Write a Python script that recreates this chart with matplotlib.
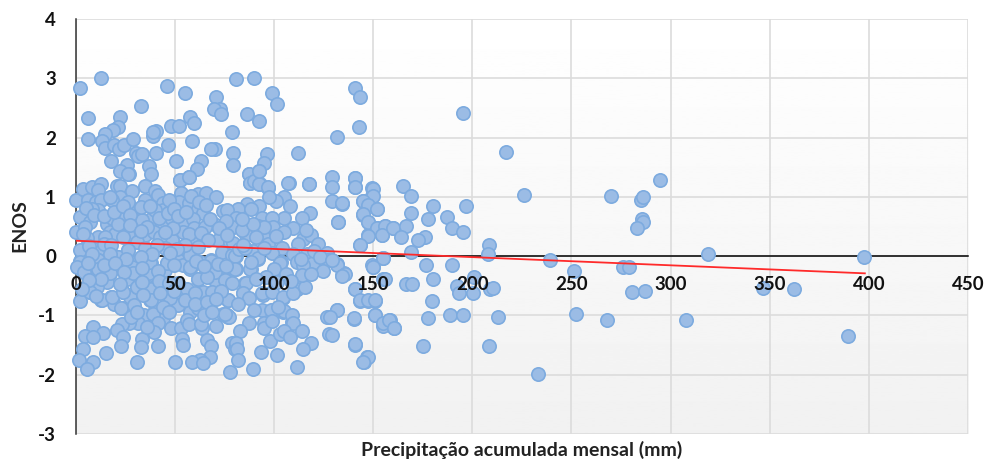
# -*- coding: utf-8 -*-
import numpy as np
import matplotlib
matplotlib.use("Agg")
import matplotlib.pyplot as plt

plt.rcParams['font.family'] = ['Lato', 'DejaVu Sans']
plt.rcParams['font.weight'] = 'bold'

# precipitacao acumulada mensal (mm), ENOS
pontos_topo = [
    (2.3,2.83),(12.9,3.01),(6.1,2.33),(22.4,2.35),(21.6,2.18),(18.7,2.12),(14.9,2.06),(6.1,1.97),
    (13.2,1.94),(14.9,1.83),(19.6,1.87),(22,1.80),(24.5,1.87),(29.2,1.97),(32.9,2.53),(30.5,1.74),
    (31.7,1.69),(33.7,1.72),(17.9,1.6),(26,1.53),(22.4,1.43),(26.8,1.39),(37.2,1.52),(37.9,1.38),
    (40.4,1.74),(39.2,2.02),(40.4,2.11),(39.2,2.1),(46.5,1.87),(46,2.87),(55.2,2.76),(48.2,2.2),
    (52.2,2.2),(57.7,2.35),(59.7,2.25),(58.9,1.95),(50.8,1.61),(63.4,1.61),(61.4,1.47),(57.2,1.33),
    (52.9,1.29),(70.8,2.69),(72.8,2.49),(70,2.49),(73.4,2.4),(80.8,2.99),(90,3.01),(98.9,2.76),
    (101.8,2.56),(86.3,2.4),(92.4,2.28),(78.7,2.1),(70.3,1.81),(68.2,1.81),(79.6,1.74),(79.6,1.53),
    (87.3,1.39),(96.4,1.73),(95,1.57),(92.5,1.43),(112.4,1.74),(88.2,1.24),(90.5,1.26),(93,1.21),
    (96.9,1.15),(107.5,1.24),(117.9,1.22),
]
pontos_faixa_alta = [
    (0.3,0.95),(3.9,1.14),(8.5,1.16),(12.9,1.21),(11.5,1.12),(6.5,0.94),(10.3,0.92),(13,0.94),
    (21,1.18),(22.4,1.18),(26.6,1.39),(22.4,0.99),(18.2,0.94),(28.7,1.1),(35,1.19),(35,0.94),
    (40,1.1),(41.8,1.03),(44.3,0.89),(43.9,0.78),(52.7,1.29),(57.2,1.33),(53.4,1.07),(52.2,0.92),
    (57,0.89),(61.9,1.04),(66,1.07),(70.7,0.99),(61.9,0.8),(64.5,0.73),(69.8,0.55),(74.5,0.76),
    (78.3,0.48),(72,0.27),(78,0.24),(2.3,0.66),(7.3,0.58),(0.25,0.41),(11.2,0.78),(11.5,0.33),
    (15.7,0.55),(18.2,0.65),(17.4,0.41),(22.4,0.41),(24.6,0.65),(30.8,0.75),(30.8,0.63),(30.8,0.47),
    (26.6,0.35),(35,0.35),(37.9,0.62),(43.4,0.51),(39.5,0.41),(48.5,0.63),(54.4,0.57),(59.4,0.63),
    (59.9,0.47),(48.8,0.28),(54.4,0.41),(59.4,0.3),(42.6,0.33),(30.8,0.24),(20,0.38),(6,0.3),
    (3.1,0.1),(13.2,0.11),(26.6,0.11),(35,0.13),(45,0.13),(57.7,0.03),(21.6,-0.01),(2.3,-0.08),
    (11.5,-0.07),(30.8,-0.08),(37.9,-0.11),(51,-0.04),(68.1,-0.07),(73.7,0.07),(4.8,-0.24),(10.7,-0.22),
    (21.6,-0.18),(28.3,-0.18),(46,-0.12),(54.4,-0.15),(62.8,-0.1),(78.7,0.02),(15,0.33),(24,0.33),
    (33.4,0.61),(40,0.78),(26.6,0.92),(17.4,1),(8.5,0.8),(4.8,0.49),(65.3,0.49),(57,0.38),
    (49.3,0.47),(36,0.49),(45.1,0.41),
]
pontos_faixa_baixa = [
    (4,-0.26),(11,-0.22),(17.4,-0.29),(16,-0.44),(7.3,-0.6),(2.3,-0.76),(10.7,-0.52),(12.9,-0.74),
    (17.9,-0.69),(19.6,-0.8),(23.3,-0.88),(24.1,-0.6),(27.5,-0.69),(29.2,-0.31),(30.8,-0.52),(25.8,-0.39),
    (37.2,-0.31),(38,-0.56),(37.6,-0.74),(40,-0.91),(34.7,-0.99),(44.3,-1.04),(39.3,-0.98),(41.6,-1.12),
    (31.7,-1.13),(27.2,-1.12),(23.3,-1.14),(20.8,-1.25),(24.1,-1.36),(22.8,-1.51),(33.4,-1.4),(33,-1.53),
    (41.4,-1.51),(39.7,-1.28),(9,-1.19),(4.8,-1.34),(13.7,-1.29),(9,-1.36),(4,-1.56),(15.4,-1.64),
    (1.8,-1.75),(9,-1.78),(6,-1.9),(31.2,-1.79),(50.2,-1.78),(48.2,-1.22),(53.4,-1.22),(53.5,-1.4),
    (54.4,-1.5),(47.6,-0.7),(55.2,-0.74),(51.8,-0.83),(57.7,-0.94),(62,-0.87),(56.4,-1.08),(57,-1.15),
    (63.6,-1.22),(63.3,-1.15),(70.6,-1.18),(66.1,-1.42),(68.3,-1.51),(67.8,-1.7),(62.8,-1.75),(58.6,-1.79),
    (64.5,-1.81),(78.7,-1.47),(80.4,-1.56),(74.5,-0.98),(77,-1.02),(76.7,-0.74),(62,-0.38),(68.7,-0.6),
    (70.3,-0.4),(75.4,-0.39),(56,-0.55),(45,-0.24),(51.9,-0.46),(64.5,-0.6),(57.7,-0.21),
    (2.3,0.1),(2.3,-0.1),(0.6,-0.18),(4.3,-0.26),(11.2,-0.07),(11.2,-0.22),(17.4,-0.29),(7.3,-0.6),
    (13.2,-0.74),(18.2,-0.69),(23,-0.88),(21.6,-0.01),(26.6,0.1),(29.2,-0.29),(37.2,-0.29),(37.6,-0.1),
    (30.8,-0.52),(24.1,-0.6),(37.9,-0.74),(46,-0.12),(57.7,0.02),(57.7,-0.18),(62,-0.38),(68.2,-0.08),
    (70.4,-0.26),(75.4,-0.4),(69,-0.6),(80.7,0),(80.7,-0.22),(88.3,-0.22),(91.9,-0.04),(85.5,-0.45),
    (84.6,-0.63),(77,-0.74),(55.2,-0.74),(47.6,-0.71),(103,-0.12),(111.5,-0.56),(104.8,-0.71),(104.8,-0.94),
    (109,-1.11),(94.7,-0.66),
]
pontos_centro = [
    (87.5,1.39),(88,1.24),(90.2,1.27),(92.7,1.21),(96.9,1.17),(92.5,1.43),(107.3,1.24),(117.9,1.21),
    (129.1,1.33),(129.1,1.17),(140.9,1.31),(140.9,1.17),(149.7,1.15),(149.7,1.01),(145.1,0.93),(129.5,0.93),
    (134.2,0.88),(151.9,0.8),(105.1,1),(101.1,0.93),(97.7,0.99),(108.2,0.84),(118.2,0.72),(114.4,0.65),
    (105,0.65),(92.7,0.85),(86.3,0.88),(82.1,0.8),(76.2,0.78),(88.5,0.79),(93.9,0.65),(99,0.65),
    (81,0.65),(78.8,0.49),(92.2,0.51),(99.4,0.49),(109.8,0.48),(105,0.4),(85.8,0.35),(94.4,0.34),
    (79.6,0.23),(83.8,0.44),(114.5,0.29),(118.6,0.35),(112,0.21),(122.4,0.2),(132.5,0.57),(145.1,0.7),
    (147.3,0.57),(147.7,0.35),(154.4,0.35),(151.9,0.48),(156,0.51),(160.3,0.48),(143.4,0.19),(96.9,0.21),
    (89.7,0.08),(104,0.13),(98.9,0.06),(109.8,0.03),(116.9,0.03),(127,0.06),(155.2,-0.03),(80.4,0.01),
    (91.9,-0.03),(103.4,-0.1),(111.5,-0.1),(119.9,-0.12),(131.7,-0.14),(149.7,-0.15),(127.5,-0.07),
    (80.4,-0.22),(88,-0.22),(103,-0.12),(114.9,-0.15),(125,-0.25),(134.2,-0.32),(135.4,-0.29),(149.8,-0.18),
    (155,-0.38),(85.8,-0.45),(93.9,-0.63),(84.6,-0.63),(87.5,-0.7),(98.9,-0.6),(104.8,-0.69),(111.5,-0.56),
    (109.8,-0.63),(115.7,-0.52),(114,-0.32),(140.9,-0.55),(143.4,-0.75),(147.6,-0.75),(150.9,-0.75),(131.7,-0.91),
    (126.7,-1.03),(140.4,-1.06),(151,-1),(155.2,-1.17),(158.5,-1.07),(160.8,-1.22),(77,-0.74),(76.2,-1),
    (77.4,-1.03),(75.4,-0.97),(94.2,-0.91),(98.6,-0.9),(105.3,-0.93),(109,-1),(109.5,-1.12),(95,-1.13),
    (95.2,-1.22),(99,-1.1),(87.5,-1.13),(82.9,-1.26),(80.8,-1.46),(81.3,-1.56),(81.8,-1.76),(77.7,-1.95),
    (89.3,-1.91),(93.6,-1.61),(98,-1.43),(103.1,-1.31),(105,-1.26),(108.2,-1.37),(114.4,-1.26),(118.8,-1.47),
    (114.9,-1.56),(101.8,-1.66),(111.7,-1.87),(128,-1.32),(140.9,-1.5),(147.2,-1.7),(145.3,-1.78),
]
# pontos encobertos na nuvem densa, estimados
pontos_densos = [
    (5.2,0.82),(9.4,0.7),(14.2,0.68),(3.6,0.37),(7,0.17),(14.2,0.2),(17.8,0.18),(21.3,0.55),(19.6,0.75),
    (23.7,0.85),(27.7,0.7),(27.4,0.52),(33,0.42),(33.2,0.83),(37.6,0.85),(42.3,0.65),(46.8,0.72),(47,0.95),
    (49.7,0.8),(51.6,0.67),(55.8,0.74),(58,1.02),(62.4,0.92),(65.7,0.87),(67.9,0.63),(63.3,0.39),(66.6,0.27),
    (62,0.16),(55.2,0.18),(51,0.12),(41.3,0.19),(47.4,0.05),(38.5,0.03),(33,-0.02),(25.6,-0.05),(17.2,0.03),
    (8.2,0.04),(6.4,-0.12),(14.5,-0.15),(19.8,-0.12),(24.4,-0.27),(33.6,-0.2),(41.4,-0.25),(49.6,-0.15),
    (42,-0.42),(47,-0.45),(33.4,-0.44),(22.4,-0.47),(13.1,-0.38),(6.7,-0.41),(3.3,-0.55),(10.2,-0.67),
    (29.5,-0.82),(34,-0.66),(42.8,-0.63),(49.6,-0.58),(60.3,-0.62),(66.5,-0.35),(60.6,-0.08),(65,-0.17),
    (71.7,-0.14),(76,-0.17),(82.2,0.12),(85.6,0.13),(88.5,-0.1),(95,0.14),(100.2,-0.22),(96,-0.35),(91,-0.38),
    (101.8,-0.43),(106,-0.3),(108.6,-0.42),(113.6,-0.05),(120.4,0.08),(123.5,-0.02),(118.5,-0.3),(95,0.5),
    (101,0.34),(89.5,0.55),(84,0.62),(76,0.6),(72.2,0.47),(76.2,0.35),(84.6,0.18),(91,0.32),(116,0.44),
    (79,-0.45),(73.2,-0.58),(60,-0.8),(66.4,-0.78),(71,-0.73),(82,-0.8),(90,-0.9),(102,-0.85),
    (28,-1.03),(31,-0.95),(36,-1.2),(44,-0.85),(47.2,-0.95),(64.7,-1),(68.7,-0.95),
]
pontos_direita = [
    (141,2.83),(143.5,2.69),(142.9,2.18),(131.7,2.01),(195.6,2.42),(216.9,1.75),(226.1,1.03),(269.8,1.01),
    (285,0.94),(286,0.99),(294.7,1.28),(285.8,0.63),(286.3,0.58),(283.3,0.47),(141,1.31),(141,1.17),
    (149.8,1.14),(149.8,1.01),(165.3,1.18),(169,1.01),(134.2,0.89),(145.1,0.93),(147.6,0.86),(151.8,0.8),
    (145.1,0.71),(147.3,0.58),(132.5,0.58),(151.8,0.47),(155.9,0.51),(154.4,0.35),(160.2,0.47),(166.7,0.51),
    (163.9,0.33),(169,0.72),(177.5,0.63),(180.1,0.84),(187.2,0.66),(189.7,0.47),(195.6,0.41),(196.9,0.84),
    (176.2,0.33),(172.9,0.28),(147.6,0.34),(143.5,0.19),(208.7,0.19),(208.2,0.03),(169,0.07),(155.2,-0.03),
    (149.8,-0.18),(131.7,-0.15),(129.2,-0.07),(135.9,-0.3),(134.2,-0.33),(176.9,-0.15),(189.7,-0.15),(239.2,-0.07),
    (251.5,-0.25),(276,-0.18),(279.3,-0.18),(156,-0.39),(166.6,-0.47),(169.5,-0.47),(180.1,-0.39),(179.6,-0.76),
    (201,-0.35),(192.2,-0.5),(193.4,-0.62),(200.3,-0.62),(209,-0.56),(210.7,-0.53),(141,-0.56),(143.5,-0.74),
    (147.6,-0.74),(151,-0.74),(131.7,-0.91),(140.4,-1.05),(151,-0.99),(155.2,-1.12),(158.2,-1.07),(160.7,-1.22),
    (128.3,-1.03),(177.5,-1.05),(188.8,-0.99),(195.6,-0.99),(213.2,-1.03),(252.2,-0.97),(267.8,-1.08),(280.8,-0.61),
    (287,-0.59),(141,-1.49),(129.2,-1.33),(175.4,-1.51),(208.7,-1.51),(147.3,-1.7),(145.1,-1.79),(233,-1.99),
    (318.7,0.03),(397.7,-0.01),(346.5,-0.53),(362.2,-0.55),(307.6,-1.08),(389.7,-1.34),
]
tendencia_x = [0, 398]
tendencia_y = [0.26, -0.29]
xticks = [0, 50, 100, 150, 200, 250, 300, 350, 400, 450]
yticks = [-3, -2, -1, 0, 1, 2, 3, 4]

pontos = np.array(pontos_topo + pontos_faixa_alta + pontos_faixa_baixa + pontos_centro + pontos_densos + pontos_direita)

fig = plt.figure(figsize=(9.85, 4.62), dpi=100)
ax = fig.add_axes([75.5 / 985, 1 - 434 / 462, (968 - 75.5) / 985, (434 - 19) / 462])

# fundo em degrade
grad = np.linspace(0.945, 1.0, 256).reshape(-1, 1)
ax.imshow(grad, extent=[0, 450, -3, 4], origin='lower', aspect='auto', cmap='gray', vmin=0, vmax=1, zorder=0)

for x in xticks:
    ax.axvline(x, color='#dcdcdc', lw=1.2, zorder=1)
for y in yticks:
    ax.axhline(y, color='#dcdcdc', lw=1.2, zorder=1)

ax.scatter(pontos[:, 0], pontos[:, 1], s=92, facecolor='#9bbce5', edgecolor='#7dabdf', linewidth=1.2,
           zorder=3, clip_on=False)
ax.plot(tendencia_x, tendencia_y, color='#ff2a2a', lw=1.3, zorder=4)

ax.set_xlim(0, 450)
ax.set_ylim(-3, 4)
ax.set_xticks(xticks)
ax.set_yticks(yticks)
ax.set_yticklabels([str(v) for v in yticks])
ax.tick_params(axis='both', length=0, labelsize=13.5, labelcolor='#111111')
ax.tick_params(axis='x', pad=14)
ax.tick_params(axis='y', pad=14)
ax.xaxis.set_zorder(5)

ax.spines['top'].set_visible(False)
ax.spines['right'].set_visible(False)
ax.spines['bottom'].set_position(('data', 0))
ax.spines['bottom'].set_color('black')
ax.spines['bottom'].set_linewidth(1.1)
ax.spines['left'].set_color('#333333')
ax.spines['left'].set_linewidth(1.1)

fig.text(522 / 985, 1 - 450 / 462, 'Precipitação acumulada mensal (mm)', ha='center', va='center',
         fontsize=14, fontweight='bold', color='#222222')
fig.text(20 / 985, 1 - 226 / 462, 'ENOS', ha='center', va='center', rotation=90,
         fontsize=14, fontweight='bold', color='#222222')

fig.savefig('out.png', dpi=100)
